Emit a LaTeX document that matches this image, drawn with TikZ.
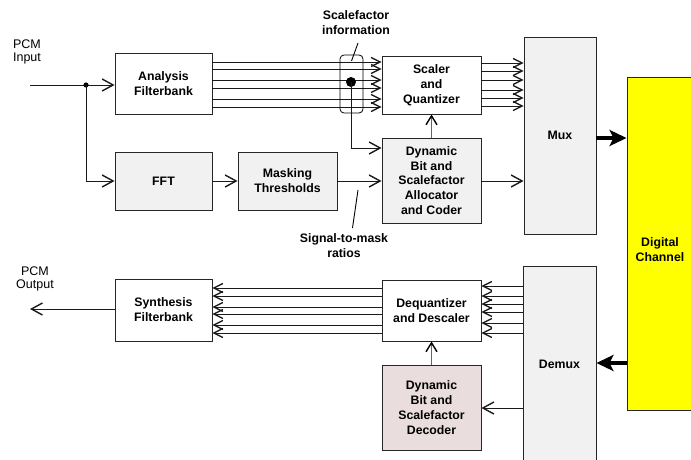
\documentclass[tikz,border=0pt]{standalone}
\usepackage{fontspec}
\setmainfont{Liberation Sans}
\usetikzlibrary{arrows.meta}
\definecolor{boxgray}{HTML}{F1F1F1}
\definecolor{decpink}{HTML}{EADDDD}
\definecolor{chanyellow}{HTML}{FFFF00}
\definecolor{wire}{HTML}{1A1A1A}
\definecolor{ctlgray}{HTML}{666666}
\newcommand{\boxfont}{\fontsize{12.3}{14.8}\selectfont\bfseries}
\newcommand{\plainfont}{\fontsize{12.5}{13}\selectfont}
\begin{document}
\begin{tikzpicture}[x=1pt,y=-1pt,
  blk/.style={draw=black!85, line width=0.9pt, font=\boxfont, align=center, inner sep=0pt},
  txt/.style={font=\boxfont, align=center, inner sep=0pt},
  plain/.style={font=\plainfont, align=center, inner sep=0pt},
  arr/.style={draw=wire, line width=0.9pt, -{Straight Barb[length=11pt,width=12pt,line width=1.4pt]}},
  bundle/.style={draw=wire, line width=0.9pt, -{Straight Barb[length=9pt,width=9pt,line width=1.3pt]}},
  ctl/.style={draw=ctlgray, line width=0.9pt, -{Straight Barb[length=9pt,width=11pt,line width=1.4pt,color=black]}},
  fat/.style={draw=black, line width=4.5pt, -{Stealth[length=17pt,width=16pt,inset=4pt]}},
  leader/.style={draw=black, line width=0.9pt}]
\useasboundingbox (0,0) rectangle (691,460);

% ---------- encoder blocks ----------
\node[blk, fill=white, minimum width=97, minimum height=61] (ana) at (163.5,83.5) {Analysis\\Filterbank};
\node[blk, fill=boxgray, minimum width=97, minimum height=58] (fft) at (163.5,181) {FFT};
\node[blk, fill=boxgray, minimum width=99, minimum height=58] (mask) at (287.5,181) {Masking\\Thresholds};
\node[blk, fill=white, minimum width=99, minimum height=58] (scaler) at (431.5,85) {Scaler\\and\\Quantizer};
\node[blk, fill=boxgray, minimum width=99, minimum height=85] (dyn) at (431.5,180.5) {Dynamic\\Bit and\\Scalefactor\\Allocator\\and Coder};
\node[blk, fill=boxgray, minimum width=72, minimum height=197] (mux) at (560,135.5) {Mux};

% ---------- channel ----------
\node[blk, fill=chanyellow, minimum width=66, minimum height=333] (chan) at (660,243.5) {};
\node[txt] (chantxt) at (660,249.5) {Digital\\Channel};

% ---------- decoder blocks ----------
\node[blk, fill=boxgray, minimum width=73, minimum height=196] (demux) at (559.5,364) {Demux};
\node[blk, fill=white, minimum width=99, minimum height=61] (deq) at (431.5,310.5) {Dequantizer\\and Descaler};
\node[blk, fill=decpink, minimum width=99, minimum height=85] (dec) at (431.5,407.5) {Dynamic\\Bit and\\Scalefactor\\Decoder};
\node[blk, fill=white, minimum width=97, minimum height=62] (syn) at (163.5,310) {Synthesis\\Filterbank};

% ---------- labels ----------
\node[plain] (pcmin) at (27,51.5) {PCM\\Input};
\node[plain] (pcmout) at (35,279) {PCM\\Output};
\node[txt] (sflbl) at (356,23) {Scalefactor\\information};
\node[txt] (smrlbl) at (344,245.5) {Signal-to-mask\\ratios};

% ---------- input path ----------
\coordinate (inL) at (30,85);
\coordinate (jn) at (86,85);
\draw[arr] (inL) -- (inL -| ana.west);
\fill (jn) circle (2.6);
\draw[arr] (jn) |- (fft.west);
\draw[arr] (fft) -- (mask);
\draw[arr] (mask) -- (mask -| dyn.west);

% ---------- subband bundles (encoder) ----------
\foreach \yy in {62,69,80,88,99,107}
  \draw[bundle] (ana.east |- 0,\yy) -- (scaler.west |- 0,\yy);
\foreach \yy in {63,71,80,90,98,106}
  \draw[bundle] (scaler.east |- 0,\yy) -- (mux.west |- 0,\yy);

% scalefactor tap
\node[draw=black, line width=0.8pt, rounded corners=4pt, minimum width=23, minimum height=58, inner sep=0pt] (sfbox) at (351.5,84) {};
\coordinate (sfdot) at (351,82);
\fill (sfdot) circle (5);
\draw[arr] (sfdot) |- ([yshift=32.5pt]dyn.west);
\coordinate (sfa) at (351.5,61);
\coordinate (sfb) at (358,43);
\draw[leader] (sfa) -- (sfb);

% signal-to-mask leader
\coordinate (sma) at (358,190);
\coordinate (smb) at (352.5,228);
\draw[leader] (sma) -- (smb);

% allocation and multiplexing
\draw[ctl] (dyn.north) -- (scaler.south);
\draw[arr] (dyn.east |- 0,181) -- (mux.west |- 0,181);
\draw[fat] (mux.east |- 0,138) -- (chan.west |- 0,138);

% ---------- decoder path ----------
\draw[fat] (chan.west |- 0,363) -- (demux.east |- 0,363);
\foreach \yy in {286,296,304,312,323,333}
  \draw[bundle] (demux.west |- 0,\yy) -- (deq.east |- 0,\yy);
\foreach \yy in {288,296,307,314,325,333}
  \draw[bundle] (deq.west |- 0,\yy) -- (syn.east |- 0,\yy);
\draw[arr] (demux.west |- 0,408) -- (dec.east |- 0,408);
\draw[ctl] (dec.north) -- (deq.south);
\coordinate (outL) at (30,309);
\draw[arr] (syn.west |- outL) -- (outL);
\end{tikzpicture}
\end{document}
